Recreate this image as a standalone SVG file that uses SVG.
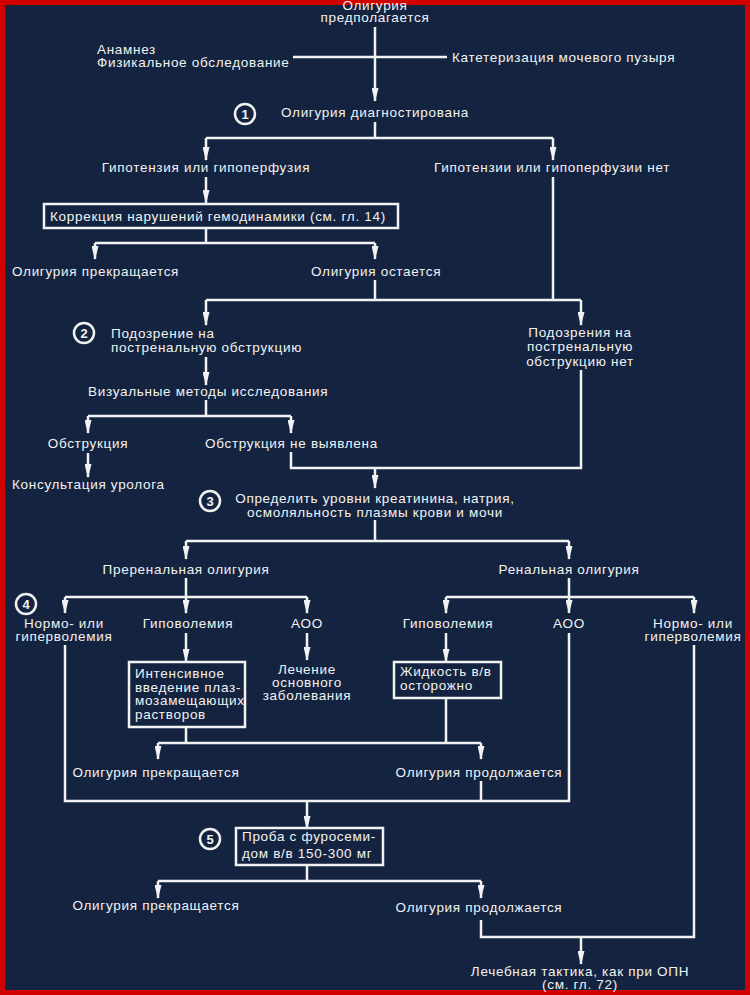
<svg xmlns="http://www.w3.org/2000/svg" width="750" height="995" viewBox="0 0 750 995">
<defs>
<style>
text{font-family:"Liberation Sans",Arial,sans-serif;font-size:13.5px;letter-spacing:0.7px;fill:#f2f2f2;}
.m{text-anchor:middle;}
.n{font-weight:bold;font-size:13px;letter-spacing:0;text-anchor:middle;}
.ln{fill:none;stroke:#f2f2f2;stroke-width:2.5;}
.ar{fill:none;stroke:#f2f2f2;stroke-width:2.5;marker-end:url(#ah);}
.box{fill:none;stroke:#f2f2f2;stroke-width:2.5;}
.cir{fill:none;stroke:#f2f2f2;stroke-width:2.5;}
</style>
<marker id="ah" markerUnits="userSpaceOnUse" markerWidth="14" markerHeight="7" viewBox="0 0 14 7" refX="13" refY="3.5" orient="auto">
<path d="M0,0 L14,3.5 L0,7 z" fill="#f2f2f2"/>
</marker>
</defs>
<rect x="0" y="0" width="750" height="995" fill="#142440"/>
<rect x="2.5" y="2.5" width="745" height="990" fill="none" stroke="#d00000" stroke-width="5"/>

<g id="connectors">
<path class="ar" d="M375,27 V101"/>
<path class="ln" d="M293,57 H447"/>
<path class="ln" d="M375,122 V138 M206,138 H553"/>
<path class="ar" d="M206,138 V160"/>
<path class="ar" d="M553,138 V160"/>
<path class="ar" d="M206,177 V203"/>
<path class="ln" d="M206,228 V243 M95,243 H375"/>
<path class="ar" d="M95,243 V259"/>
<path class="ar" d="M375,243 V259"/>
<path class="ln" d="M375,280 V300 M206,300 H581 M553,177 V300"/>
<path class="ar" d="M206,300 V325"/>
<path class="ar" d="M581,300 V325"/>
<path class="ar" d="M206,357 V385"/>
<path class="ln" d="M206,400 V416 M88,416 H291"/>
<path class="ar" d="M88,416 V433"/>
<path class="ar" d="M291,416 V433"/>
<path class="ar" d="M88,453 V477"/>
<path class="ln" d="M291,452 V468 H581 V370"/>
<path class="ar" d="M375,468 V488"/>
<path class="ln" d="M375,520 V541 M186,541 H569"/>
<path class="ar" d="M186,541 V559"/>
<path class="ar" d="M569,541 V559"/>
<path class="ln" d="M186,578 V597 M65,597 H307 M569,578 V597 M446,597 H694"/>
<path class="ar" d="M65,597 V613"/>
<path class="ar" d="M186,597 V613"/>
<path class="ar" d="M307,597 V613"/>
<path class="ar" d="M446,597 V613"/>
<path class="ar" d="M569,597 V613"/>
<path class="ar" d="M694,597 V613"/>
<path class="ar" d="M186,633 V662"/>
<path class="ar" d="M307,633 V660"/>
<path class="ar" d="M446,633 V662"/>
<path class="ln" d="M65,645 V801 H569 V633"/>
<path class="ln" d="M186,727 V743 M446,698 V743 M158,743 H481"/>
<path class="ar" d="M158,743 V759"/>
<path class="ar" d="M481,743 V759"/>
<path class="ln" d="M481,781 V801"/>
<path class="ar" d="M307,801 V829"/>
<path class="ln" d="M307,865 V881 M158,881 H481"/>
<path class="ar" d="M158,881 V898"/>
<path class="ar" d="M481,881 V898"/>
<path class="ln" d="M481,920 V937 H694 V645"/>
<path class="ar" d="M581,937 V964"/>
</g>

<g id="n-start">
<text class="m" x="375" y="10">Олигурия</text>
<text class="m" x="375" y="22">предполагается</text>
</g>
<g id="n-anamnez">
<text x="97" y="54">Анамнез</text>
<text x="97" y="67">Физикальное обследование</text>
</g>
<g id="n-kateter">
<text x="452" y="62">Катетеризация мочевого пузыря</text>
</g>
<g id="n-diag">
<circle class="cir" cx="245" cy="114" r="10"/>
<text class="n" x="245" y="119">1</text>
<text x="281" y="117">Олигурия диагностирована</text>
</g>
<g id="n-hypo">
<text class="m" x="206" y="172">Гипотензия или гипоперфузия</text>
</g>
<g id="n-nohypo">
<text class="m" x="552" y="172">Гипотензии или гипоперфузии нет</text>
</g>
<g id="n-correction">
<rect class="box" x="44" y="204" width="354" height="24"/>
<text x="50" y="221">Коррекция нарушений гемодинамики (см. гл. 14)</text>
</g>
<g id="n-stop1">
<text x="12" y="276">Олигурия прекращается</text>
</g>
<g id="n-remain">
<text x="311" y="276">Олигурия остается</text>
</g>
<g id="n-suspect">
<circle class="cir" cx="84" cy="333" r="10"/>
<text class="n" x="84" y="338">2</text>
<text x="111" y="338">Подозрение на</text>
<text x="111" y="352">постренальную обструкцию</text>
</g>
<g id="n-nosuspect">
<text class="m" x="580" y="337">Подозрения на</text>
<text class="m" x="580" y="351">постренальную</text>
<text class="m" x="580" y="366">обструкцию нет</text>
</g>
<g id="n-visual">
<text x="88" y="396">Визуальные методы исследования</text>
</g>
<g id="n-obstr">
<text class="m" x="88" y="448">Обструкция</text>
</g>
<g id="n-noobstr">
<text x="205" y="448">Обструкция не выявлена</text>
</g>
<g id="n-urolog">
<text x="12" y="489">Консультация уролога</text>
</g>
<g id="n-levels">
<circle class="cir" cx="210" cy="501" r="10"/>
<text class="n" x="210" y="506">3</text>
<text class="m" x="375" y="503">Определить уровни креатинина, натрия,</text>
<text class="m" x="375" y="517">осмоляльность плазмы крови и мочи</text>
</g>
<g id="n-prerenal">
<text class="m" x="186" y="574">Преренальная олигурия</text>
</g>
<g id="n-renal">
<text class="m" x="569" y="574">Ренальная олигурия</text>
</g>
<g id="n-step4">
<circle class="cir" cx="26" cy="604" r="10"/>
<text class="n" x="26" y="609">4</text>
</g>
<g id="n-normo1">
<text class="m" x="64" y="628">Нормо- или</text>
<text class="m" x="64" y="641">гиперволемия</text>
</g>
<g id="n-hypovol1">
<text class="m" x="188" y="628">Гиповолемия</text>
</g>
<g id="n-aoo1">
<text class="m" x="307" y="628">АОО</text>
</g>
<g id="n-hypovol2">
<text class="m" x="448" y="628">Гиповолемия</text>
</g>
<g id="n-aoo2">
<text class="m" x="569" y="628">АОО</text>
</g>
<g id="n-normo2">
<text class="m" x="693" y="628">Нормо- или</text>
<text class="m" x="693" y="641">гиперволемия</text>
</g>
<g id="n-intensive">
<rect class="box" x="129" y="662" width="116" height="65"/>
<text x="135" y="678">Интенсивное</text>
<text x="135" y="692">введение плаз-</text>
<text x="135" y="705">мозамещающих</text>
<text x="135" y="719">растворов</text>
</g>
<g id="n-treat">
<text class="m" x="307" y="674">Лечение</text>
<text class="m" x="307" y="687">основного</text>
<text class="m" x="307" y="700">заболевания</text>
</g>
<g id="n-fluid">
<rect class="box" x="394" y="662" width="107" height="36"/>
<text x="400" y="676">Жидкость в/в</text>
<text x="400" y="690">осторожно</text>
</g>
<g id="n-stop2">
<text class="m" x="156" y="777">Олигурия прекращается</text>
</g>
<g id="n-cont2">
<text class="m" x="479" y="777">Олигурия продолжается</text>
</g>
<g id="n-furo">
<circle class="cir" cx="210" cy="839" r="10"/>
<text class="n" x="210" y="844">5</text>
<rect class="box" x="236" y="828" width="147" height="37"/>
<text x="242" y="841">Проба с фуросеми-</text>
<text x="242" y="858">дом в/в 150-300 мг</text>
</g>
<g id="n-stop3">
<text class="m" x="156" y="910">Олигурия прекращается</text>
</g>
<g id="n-cont3">
<text class="m" x="479" y="912">Олигурия продолжается</text>
</g>
<g id="n-opn">
<text class="m" x="580" y="976">Лечебная тактика, как при ОПН</text>
<text class="m" x="580" y="989">(см. гл. 72)</text>
</g>
</svg>
